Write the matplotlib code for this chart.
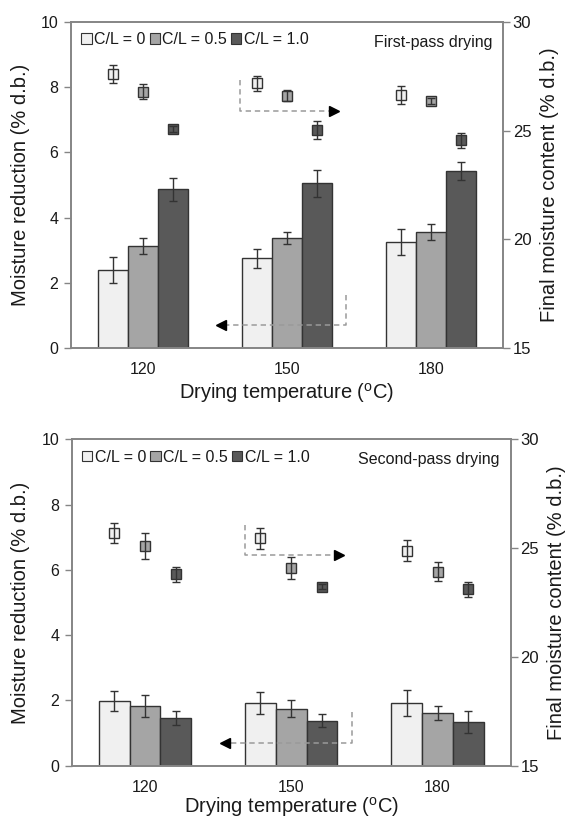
import matplotlib
matplotlib.use('Agg')
import matplotlib.pyplot as plt
import numpy as np
from matplotlib.patches import Patch

plt.rcParams['font.family'] = ['Liberation Sans', 'DejaVu Sans']
plt.rcParams['mathtext.fontset'] = 'custom'
plt.rcParams['mathtext.rm'] = 'Liberation Sans'
plt.rcParams['mathtext.it'] = 'Liberation Sans:italic'

# ---------------- data ----------------
temps = ['120', '150', '180']
ratios = ['C/L = 0', 'C/L = 0.5', 'C/L = 1.0']
colors = ['#f0f0f0', '#a5a5a5', '#595959']

# first-pass: moisture reduction (left axis), rows = C/L ratio, cols = temperature
mr1 = [[2.39, 2.75, 3.25], [3.13, 3.37, 3.56], [4.87, 5.05, 5.44]]
mr1_err = [[0.41, 0.30, 0.41], [0.24, 0.19, 0.25], [0.35, 0.41, 0.28]]
# first-pass: final moisture content (right axis)
fmc1 = [[27.60, 27.18, 26.64], [26.80, 26.61, 26.37], [25.08, 25.03, 24.55]]
fmc1_err = [[0.40, 0.34, 0.40], [0.36, 0.24, 0.15], [0.15, 0.40, 0.36]]

# second-pass
mr2 = [[1.98, 1.92, 1.92], [1.83, 1.74, 1.62], [1.46, 1.38, 1.33]]
mr2_err = [[0.31, 0.34, 0.41], [0.34, 0.26, 0.21], [0.20, 0.20, 0.33]]
fmc2 = [[25.70, 25.45, 24.87], [25.10, 24.08, 23.92], [23.80, 23.23, 23.10]]
fmc2_err = [[0.46, 0.47, 0.48], [0.58, 0.49, 0.42], [0.34, 0.12, 0.36]]

titles = ['First-pass drying', 'Second-pass drying']

# ---------------- drawing ----------------
fig = plt.figure(figsize=(5.71, 8.21), dpi=100)
rects = [[0.1243, 0.5761, 0.7566, 0.3971], [0.1256, 0.0674, 0.7688, 0.3975]]
spine_c = '#858585'
edge_c = '#333333'
txt_c = '#1a1a1a'

def draw(rect, mr, mr_err, fmc, fmc_err, title, left_arrow, right_arrow, xpad):
    ax = fig.add_axes(rect)
    ax2 = ax.twinx()
    x = np.arange(len(temps))
    w = 0.21
    for i in range(len(ratios)):
        off = (i - 1) * w
        ax.bar(x + off, mr[i], width=w, color=colors[i], edgecolor=edge_c,
               linewidth=1.0, zorder=2)
        ax.errorbar(x + off, mr[i], yerr=mr_err[i], fmt='none', ecolor='#333333',
                    elinewidth=1.0, capsize=2.8, capthick=1.0, zorder=3)
        ax2.plot(x + off, fmc[i], ls='none', marker='s', mfc=colors[i],
                 mec='#333333', mew=1.0, ms=7, zorder=3)
        ax2.errorbar(x + off, fmc[i], yerr=fmc_err[i], fmt='none',
                     ecolor='#333333', elinewidth=1.0, capsize=2.8,
                     capthick=1.0, zorder=4)
    ax.set_xlim(-0.5, 2.5)
    ax.set_ylim(0, 10)
    ax2.set_ylim(15, 30)
    ax.set_yticks([0, 2, 4, 6, 8, 10])
    ax2.set_yticks([15, 20, 25, 30])
    ax.set_xticks(x)
    ax.set_xticklabels(temps)
    ax.tick_params(axis='x', length=0, pad=10, labelsize=11.5, colors=txt_c)
    ax.tick_params(axis='y', length=5, width=1, color=spine_c, pad=4,
                   labelsize=11.5, labelcolor=txt_c, direction='out')
    ax2.tick_params(axis='y', length=5, width=1, color=spine_c, pad=2,
                    labelsize=12, labelcolor=txt_c, direction='out')
    for a in (ax, ax2):
        for s in a.spines.values():
            s.set_color(spine_c)
            s.set_linewidth(1.2)
    ax.set_xlabel(r'Drying temperature ($^{\mathrm{o}}$C)', fontsize=14.5,
                  color=txt_c, labelpad=xpad)
    ax.set_ylabel('Moisture reduction (% d.b.)', fontsize=14.5, color=txt_c,
                  labelpad=8)
    ax2.set_ylabel('Final moisture content (% d.b.)', fontsize=14.5,
                   color=txt_c, labelpad=6)
    handles = [Patch(facecolor=colors[i], edgecolor='#333333', linewidth=0.8,
                     label=ratios[i]) for i in range(3)]
    ax2.legend(handles=handles, loc='upper left', ncol=3, frameon=False,
               handlelength=0.65, handleheight=0.65, handletextpad=0.15,
               columnspacing=0.25, borderaxespad=0.35, fontsize=11.5,
               borderpad=0.3, labelcolor=txt_c)
    ax2.text(0.975, 0.96, title, transform=ax2.transAxes, ha='right',
             va='top', fontsize=11.5, color=txt_c)

    # dashed indicator arrows
    dc = '#9a9a9a'
    lx, ly_top, ly, ltip = left_arrow
    ax.plot([lx, lx, ltip + 0.06], [ly_top, ly, ly], ls=(0, (3.5, 2.5)),
            color=dc, lw=1.1, zorder=4)
    ax.plot([ltip + 0.035], [ly], marker='<', color='black', ms=7, zorder=5)
    rx, ry_top, ry, rtip = right_arrow
    ax2.plot([rx, rx, rtip - 0.06], [ry_top, ry, ry], ls=(0, (3.5, 2.5)),
             color=dc, lw=1.1, zorder=4)
    ax2.plot([rtip - 0.035], [ry], marker='>', color='black', ms=7, zorder=5)
    return ax, ax2

draw(rects[0], mr1, mr1_err, fmc1, fmc1_err, titles[0],
     (1.41, 1.63, 0.70, 0.505), (0.674, 27.33, 25.90, 1.36), 3)
draw(rects[1], mr2, mr2_err, fmc2, fmc2_err, titles[1],
     (1.414, 1.64, 0.69, 0.514), (0.683, 26.06, 24.68, 1.36), 0)

fig.savefig('out.png', dpi=100)
